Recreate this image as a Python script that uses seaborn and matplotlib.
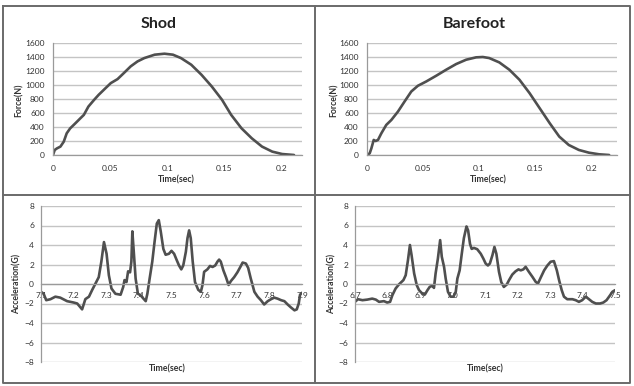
import matplotlib
matplotlib.use("Agg")
import matplotlib.pyplot as plt
import matplotlib.ticker as mticker
from matplotlib.lines import Line2D
import seaborn as sns
import pandas as pd

# ground reaction force, shod
shod_t = [0.0, 0.0015, 0.0035, 0.0065, 0.0094, 0.012, 0.015, 0.0197, 0.024, 0.027,
          0.031, 0.036, 0.040, 0.046, 0.0506, 0.0565, 0.062, 0.068, 0.074, 0.080,
          0.089, 0.0976, 0.105, 0.112, 0.121, 0.130, 0.139, 0.148, 0.156, 0.165,
          0.174, 0.183, 0.192, 0.2006, 0.211]
shod_f = [0, 72, 95, 120, 190, 310, 380, 455, 525, 573,
          692, 788, 860, 955, 1027, 1084, 1170, 1266, 1337, 1385,
          1433, 1447, 1433, 1385, 1290, 1146, 979, 788, 573, 382,
          239, 120, 48, 14, 0]

# ground reaction force, barefoot
bare_t = [0.0, 0.0024, 0.0039, 0.006, 0.0077, 0.0098, 0.0128, 0.0172, 0.0217, 0.0276,
          0.0335, 0.0395, 0.0454, 0.0528, 0.0617, 0.0706, 0.0795, 0.0884, 0.0973, 0.1033,
          0.109, 0.118, 0.127, 0.136, 0.145, 0.154, 0.163, 0.1715, 0.180, 0.189,
          0.198, 0.207, 0.216]
bare_f = [0, 24, 95, 215, 200, 215, 310, 430, 500, 620,
          764, 907, 989, 1050, 1132, 1218, 1299, 1361, 1395, 1400,
          1385, 1323, 1218, 1075, 884, 669, 454, 263, 143, 72,
          33, 10, 0]

# tibial acceleration, shod
shod_acc_t = [7.100, 7.108, 7.116, 7.129, 7.144, 7.159, 7.180, 7.200, 7.211, 7.226,
              7.236, 7.247, 7.257, 7.267, 7.277, 7.285, 7.293, 7.301, 7.308, 7.316,
              7.328, 7.344, 7.352, 7.356, 7.362, 7.367, 7.373, 7.377, 7.380, 7.385,
              7.390, 7.397, 7.405, 7.414, 7.421, 7.426, 7.433, 7.441, 7.448, 7.455,
              7.461, 7.467, 7.475, 7.482, 7.492, 7.500, 7.508, 7.516, 7.523, 7.530,
              7.536, 7.544, 7.549, 7.554, 7.559, 7.565, 7.572, 7.582, 7.590, 7.595,
              7.600, 7.610, 7.618, 7.626, 7.634, 7.641, 7.646, 7.651, 7.659, 7.667,
              7.675, 7.682, 7.692, 7.702, 7.711, 7.718, 7.728, 7.735, 7.743, 7.754,
              7.764, 7.774, 7.784, 7.795, 7.805, 7.815, 7.825, 7.836, 7.846, 7.856,
              7.866, 7.877, 7.884, 7.890, 7.894, 7.900]
shod_acc = [-0.8, -1.0, -1.66, -1.56, -1.3, -1.4, -1.76, -1.9, -2.0, -2.6,
            -1.55, -1.3, -0.6, 0.05, 0.7, 2.3, 4.3, 3.1, 0.9, -0.46,
            -1.0, -1.1, -0.3, 0.4, 0.2, 1.3, 1.2, 2.3, 5.4, 3.0,
            0.56, -1.0, -1.15, -1.5, -1.76, -1.0, 0.56, 2.28, 4.3, 6.2,
            6.55, 5.4, 3.6, 3.0, 3.1, 3.4, 3.1, 2.45, 1.9, 1.5,
            1.9, 3.3, 4.7, 5.5, 4.7, 2.3, 0.2, -0.6, -0.8, -0.1,
            1.25, 1.5, 1.85, 1.75, 1.9, 2.3, 2.5, 2.3, 1.4, 0.7,
            -0.1, 0.3, 0.7, 1.2, 1.75, 2.2, 2.1, 1.65, 0.56, -0.8,
            -1.3, -1.66, -2.1, -1.76, -1.56, -1.4, -1.5, -1.66, -1.76, -2.1,
            -2.4, -2.7, -2.6, -2.0, -1.1, -0.9]

# tibial acceleration, barefoot
bare_acc_t = [6.700, 6.709, 6.723, 6.738, 6.753, 6.764, 6.774, 6.789, 6.799, 6.808,
              6.815, 6.825, 6.835, 6.849, 6.856, 6.863, 6.869, 6.874, 6.882, 6.890,
              6.897, 6.907, 6.915, 6.923, 6.930, 6.938, 6.943, 6.948, 6.955, 6.962,
              6.967, 6.974, 6.979, 6.986, 6.994, 7.003, 7.010, 7.015, 7.022, 7.028,
              7.035, 7.043, 7.048, 7.054, 7.059, 7.066, 7.076, 7.087, 7.095, 7.102,
              7.109, 7.115, 7.123, 7.129, 7.135, 7.143, 7.150, 7.158, 7.167, 7.174,
              7.184, 7.194, 7.203, 7.210, 7.218, 7.225, 7.235, 7.246, 7.256, 7.263,
              7.271, 7.282, 7.292, 7.302, 7.312, 7.321, 7.328, 7.336, 7.343, 7.353,
              7.369, 7.379, 7.389, 7.399, 7.410, 7.420, 7.430, 7.441, 7.454, 7.464,
              7.474, 7.485, 7.492, 7.500]
bare_acc = [-1.83, -1.56, -1.66, -1.6, -1.5, -1.6, -1.83, -1.76, -1.9, -1.83,
            -1.15, -0.46, -0.05, 0.4, 0.9, 2.45, 4.0, 2.97, 1.08, -0.12,
            -0.63, -0.98, -1.08, -0.63, -0.29, -0.19, -0.4, 1.08, 2.6, 4.5,
            2.8, 1.76, 0.56, -0.8, -1.3, -1.3, -0.8, 0.56, 1.4, 2.97,
            4.7, 5.9, 5.5, 4.1, 3.6, 3.7, 3.57, 3.1, 2.6, 2.1,
            1.9, 2.1, 2.97, 3.8, 3.1, 1.25, 0.2, -0.3, -0.05, 0.4,
            0.97, 1.3, 1.5, 1.4, 1.5, 1.76, 1.25, 0.73, 0.22, 0.05,
            0.63, 1.4, 1.9, 2.28, 2.35, 1.4, 0.39, -0.63, -1.3, -1.56,
            -1.56, -1.66, -1.83, -1.66, -1.3, -1.56, -1.83, -2.0, -2.0, -1.9,
            -1.66, -1.15, -0.8, -0.63]

titles = ["Shod", "Barefoot"]
force_xticks = [0, 0.05, 0.1, 0.15, 0.2]
force_xticklabels = ["0", "0.05", "0.1", "0.15", "0.2"]
shod_acc_ticks = [7.1, 7.2, 7.3, 7.4, 7.5, 7.6, 7.7, 7.8, 7.9]
bare_acc_ticks = [6.7, 6.8, 6.9, 7.0, 7.1, 7.2, 7.3, 7.4, 7.5]

sns.set_style("white")
plt.rcParams["font.family"] = ["Lato", "DejaVu Sans"]

LINE = "#4f4f4f"
GRID = "#c4c4c4"
W, H = 634, 386


def fx(px):
    return px / W


def fy(py):
    return 1 - py / H


fig = plt.figure(figsize=(6.34, 3.86), dpi=100)

ax_tl = fig.add_axes([fx(53), fy(155), fx(302 - 53), (155 - 43) / H])
ax_tr = fig.add_axes([fx(367), fy(155), fx(617 - 367), (155 - 43) / H])
ax_bl = fig.add_axes([fx(41), fy(362), fx(302 - 41), (362 - 206) / H])
ax_br = fig.add_axes([fx(355), fy(362), fx(615 - 355), (362 - 206) / H])


def style_axes(ax):
    for s in ["top", "right"]:
        ax.spines[s].set_visible(False)
    for s in ["left", "bottom"]:
        ax.spines[s].set_color("#9a9a9a")
        ax.spines[s].set_linewidth(0.9)
    ax.yaxis.grid(True, color=GRID, linewidth=1.0)
    ax.set_axisbelow(True)
    ax.set_xlabel("")
    ax.set_ylabel("")
    ax.tick_params(axis="both", labelsize=6, colors="#9a9a9a", labelcolor="#333333",
                   length=3, width=0.8)


def force_panel(ax, t, f, xmax):
    df = pd.DataFrame({"t": t, "f": f})
    sns.lineplot(data=df, x="t", y="f", ax=ax, color=LINE, linewidth=1.9,
                 estimator=None, sort=False)
    style_axes(ax)
    ax.set_xlim(0, xmax)
    ax.set_ylim(0, 1600)
    ax.set_yticks(range(0, 1601, 200))
    ax.set_xticks(force_xticks)
    ax.set_xticklabels(force_xticklabels)
    ax.xaxis.set_minor_locator(mticker.MultipleLocator(0.01))
    ax.tick_params(axis="x", which="minor", length=3, width=0.8, colors="#9a9a9a")
    ax.tick_params(axis="x", pad=4)
    ax.tick_params(axis="y", pad=3)


def acc_panel(ax, t, a, ticks):
    df = pd.DataFrame({"t": t, "a": a})
    sns.lineplot(data=df, x="t", y="a", ax=ax, color=LINE, linewidth=1.9,
                 estimator=None, sort=False)
    style_axes(ax)
    ax.set_xlim(ticks[0], ticks[-1])
    ax.set_ylim(-8, 8)
    ax.set_yticks(range(-8, 9, 2))
    ax.spines["bottom"].set_position(("data", 0))
    ax.set_xticks(ticks)
    ax.set_xticklabels([f"{v:.1f}" for v in ticks])
    ax.tick_params(axis="x", direction="inout", length=4, pad=4)
    ax.tick_params(axis="y", pad=2)


force_panel(ax_tl, shod_t, shod_f, 0.218)
force_panel(ax_tr, bare_t, bare_f, 0.223)
acc_panel(ax_bl, shod_acc_t, shod_acc, shod_acc_ticks)
acc_panel(ax_br, bare_acc_t, bare_acc, bare_acc_ticks)

# titles and axis labels
fig.text(fx(159), fy(24), titles[0], ha="center", va="center", fontsize=11.5,
         fontweight="bold", color="#222222")
fig.text(fx(474), fy(24), titles[1], ha="center", va="center", fontsize=11.5,
         fontweight="bold", color="#222222")
lab = dict(ha="center", va="center", fontsize=6.3, fontweight="bold", color="#333333")
fig.text(fx(176), fy(180), "Time(sec)", **lab)
fig.text(fx(488), fy(180), "Time(sec)", **lab)
fig.text(fx(167), fy(369), "Time(sec)", **lab)
fig.text(fx(485), fy(369), "Time(sec)", **lab)
fig.text(fx(19), fy(100), "Force(N)", rotation=90, **lab)
fig.text(fx(334), fy(100), "Force(N)", rotation=90, **lab)
fig.text(fx(17), fy(284), "Acceleration(G)", rotation=90, **lab)
fig.text(fx(332), fy(284), "Acceleration(G)", rotation=90, **lab)

# panel frames
frame = dict(color="#6a6a6a", linewidth=1.4, transform=fig.transFigure)
fig.add_artist(Line2D([fx(3), fx(630), fx(630), fx(3), fx(3)],
                      [fy(6), fy(6), fy(383), fy(383), fy(6)], **frame))
fig.add_artist(Line2D([fx(315), fx(315)], [fy(6), fy(383)], **frame))
fig.add_artist(Line2D([fx(3), fx(630)], [fy(195), fy(195)], **frame))

fig.savefig("out.png", dpi=100)
